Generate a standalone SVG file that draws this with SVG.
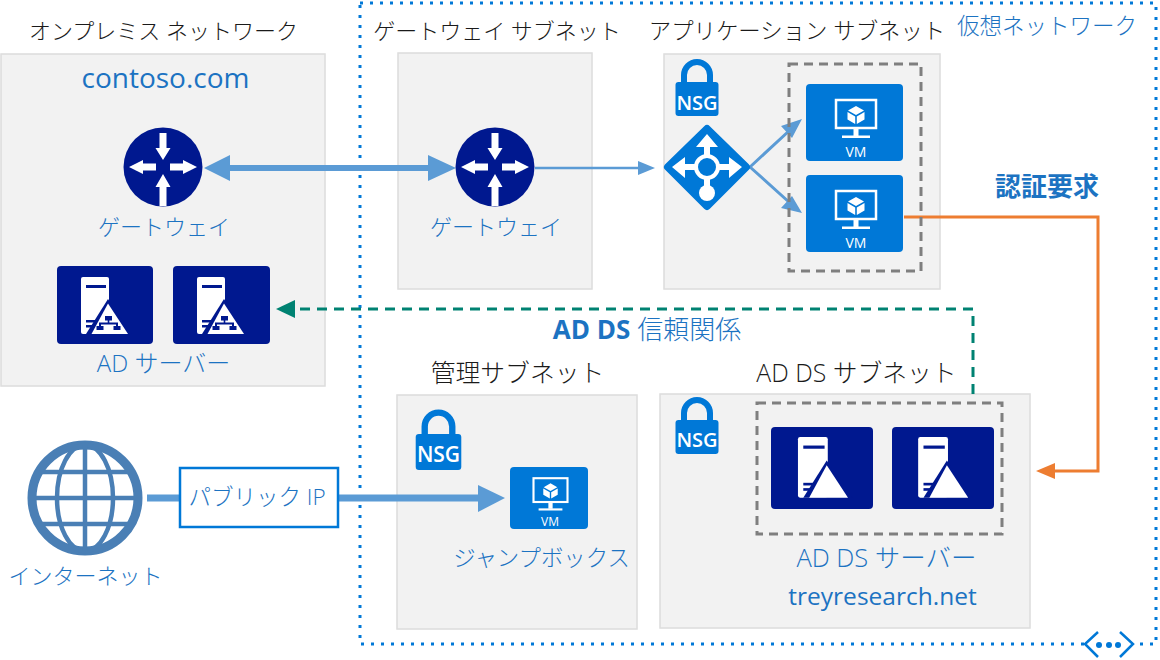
<svg xmlns="http://www.w3.org/2000/svg" xmlns:xlink="http://www.w3.org/1999/xlink" width="1160" height="660" viewBox="0 0 1160 660">
<style>
text{font-family:"Open Sans","Noto Sans CJK JP",sans-serif;text-anchor:middle}
.panel{fill:#f2f2f2;stroke:#dcdcdc;stroke-width:1.5}
.t{font-size:22px;fill:#1a1a1a;font-weight:300}
.t2{font-size:24.800px;fill:#1a1a1a;font-weight:300}
.b{font-size:22px;fill:#1c73c2;font-weight:300}
.b2{font-size:24.800px;fill:#1c73c2;font-weight:300}
.bold{font-size:26px;fill:#1c73c2;font-weight:700}
.dash{fill:none;stroke:#7f7f7f;stroke-width:3;stroke-dasharray:9 6}
.w{fill:#fff}
.lbl{fill:#fff;font-weight:600}
.vmt{fill:#fff;font-weight:400}
.blue{fill:#0078d7}
.navy{fill:#00188f}
.a{stroke:#5b9bd5;fill:none}
.ah{fill:#5b9bd5}
</style>
<defs>
<g id="router"><circle r="39.500" fill="#00188f"/>
<path class="w" d="M-3.500-34H3.500V-19H7.500L0-7-7.500-19H-3.500ZM-3.500 39H3.500V20H7.500L0 7-7.500 20H-3.500ZM-34 0-20-7V-3.500H-7V3.500H-20V7ZM34 0 20-7V-3.500H7V3.500H20V7Z"/></g>
<g id="lock"><path d="M-13 0V-9A13 13 0 0 1 13-9V0" fill="none" stroke="#0078d7" stroke-width="6"/><rect x="-21.500" y="-2" width="43" height="34" rx="3" class="blue"/></g>
<g id="vmicon"><rect x="-20" y="-28" width="40" height="28" fill="none" stroke="#fff" stroke-width="2.500"/><rect x="-2.500" y="1" width="5" height="7" class="w"/><rect x="-14" y="7.500" width="28" height="2.500" class="w"/><path class="w" d="M0-22-8-17.500 0-13 8-17.500ZM-8.500-16-.8-11.500V-4L-8.500-8.500ZM8.500-16 .8-11.500V-4L8.500-8.500Z"/></g>
<g id="srv"><rect x="24" y="11" width="28" height="57" rx="2" class="w"/><rect x="29" y="19" width="20" height="3" class="navy"/><rect x="29" y="54" width="10" height="2.500" class="navy"/><rect x="29" y="59" width="8" height="2.500" class="navy"/><path class="navy" d="M51 33 29 68H75Z"/><path class="w" d="M51 37.500 34.500 68H71Z"/></g>
<g id="adtree"><path class="navy" d="M48 50H55V54.500H52.300V56.500H61V60H63.500V64H56.500V60H59V58.500H44V60H46.500V64H39.500V60H42V56.500H50.700V54.500H48Z"/></g>
</defs>

<g id="vnet"><path d="M360 3H1156V644H1136M1084 644H360V3" fill="none" stroke="#0078d7" stroke-width="3" stroke-dasharray="3 7"/>
<g fill="none" stroke="#0078d7" stroke-width="2.500"><path d="M1098 632 1085 644 1098 657M1120 632 1133 644 1120 657"/></g>
<circle cx="1099" cy="645" r="3" class="blue"/><circle cx="1109" cy="645" r="3" class="blue"/><circle cx="1118" cy="645" r="3" class="blue"/>
<text x="1047" y="34" class="b" style="font-size:22.500px">仮想ネットワーク</text></g>

<g id="onprem"><rect x="1" y="54" width="324" height="332" class="panel"/>
<text x="163.500" y="39" class="t">オンプレミス ネットワーク</text>
<text x="165.500" y="88" style="font-size:28px;fill:#1c73c2">contoso.com</text></g>
<g id="gw-subnet"><rect x="398" y="53" width="194" height="236" class="panel"/>
<text x="497" y="39" class="t">ゲートウェイ サブネット</text></g>
<g id="app-subnet"><rect x="664" y="54" width="276" height="235" class="panel"/>
<text x="797" y="39" class="t" style="font-size:22.400px">アプリケーション サブネット</text></g>
<g id="mgmt-subnet"><rect x="397" y="395" width="240" height="234" class="panel"/>
<text x="517.500" y="382" class="t2">管理サブネット</text></g>
<g id="adds-subnet"><rect x="660" y="394" width="370" height="234" class="panel"/>
<text x="856.500" y="382" class="t2">AD DS サブネット</text></g>

<g id="connectors">
<path class="a" stroke-width="6" d="M226 168H432"/>
<path class="ah" d="M204 168 230 155V181ZM456 168 428 155V181Z"/>
<path class="a" stroke-width="2.500" d="M535 168H642"/><path class="ah" d="M655 168 638 161V175Z"/>
<path class="a" stroke-width="3" d="M750 167 790 130M750 167 790 203"/>
<path class="ah" d="M802 119 781 126 792 138ZM802 213 792 196 781 208Z"/>
<path d="M904 217H1098V471H1052" fill="none" stroke="#ed7d31" stroke-width="3"/><path d="M1036 471 1055 463V479Z" fill="#ed7d31"/>
<path d="M973 394V309H295" fill="none" stroke="#008272" stroke-width="3" stroke-dasharray="10 7"/><path d="M276 309 295 300V318Z" fill="#008272"/>
<path class="a" stroke-width="7" d="M147 498H180M338 498H480"/><path class="ah" d="M505 498 478 485V512Z"/>
</g>

<g id="router1"><use xlink:href="#router" x="163" y="167"/><text x="164" y="235" class="b">ゲートウェイ</text></g>
<g id="router2"><use xlink:href="#router" x="495" y="167"/><text x="496" y="235" class="b">ゲートウェイ</text></g>

<g id="ad-servers">
<rect x="57" y="266" width="96" height="78" rx="4" class="navy"/><g transform="translate(57 266)"><use xlink:href="#srv"/><use xlink:href="#adtree"/></g>
<rect x="173" y="266" width="97" height="78" rx="4" class="navy"/><g transform="translate(173 266)"><use xlink:href="#srv"/><use xlink:href="#adtree"/></g>
<text x="163.500" y="372" class="b" style="font-size:24px">AD サーバー</text></g>

<g id="nsg-app"><use xlink:href="#lock" x="697" y="84"/><text x="697" y="110" class="lbl" font-size="20">NSG</text></g>
<g id="lb"><path d="M707 129 746 167 707 206 668 167Z" fill="#0078d7" stroke="#0078d7" stroke-width="8" stroke-linejoin="round"/>
<path class="w" d="M707 134 718 147H710V158H704V147H696ZM672 167 685 157V164H696V170H685V178ZM742 167 729 157V164H718V170H729V178ZM704 176H710V186H704Z"/>
<circle cx="707" cy="167" r="11" fill="#0078d7" stroke="#fff" stroke-width="4"/><circle cx="707" cy="193" r="8" class="w"/></g>
<g id="vm1"><rect x="806" y="84" width="97" height="77" rx="4" class="blue"/><use xlink:href="#vmicon" x="856" y="128"/><text x="856" y="157" class="vmt" font-size="14">VM</text></g>
<g id="vm2"><rect x="806" y="175" width="97" height="77" rx="4" class="blue"/><use xlink:href="#vmicon" x="856" y="219"/><text x="856" y="248" class="vmt" font-size="14">VM</text></g>
<rect id="app-group" x="789" y="64" width="132" height="207" class="dash"/>

<g id="auth"><text x="1047" y="196" class="bold">認証要求</text></g>
<g id="trust"><text x="647" y="339" class="b" style="font-size:26px"><tspan class="bold">AD DS</tspan> 信頼関係</text></g>

<g id="internet"><circle cx="85" cy="498" r="53" fill="none" stroke="#4a7fb5" stroke-width="9"/>
<g fill="none" stroke="#4a7fb5" stroke-width="4.500"><ellipse cx="85" cy="498" rx="28" ry="53"/><path d="M85 445V551M32 498H138M42 472H128M42 524H128"/></g>
<text x="85.500" y="584" class="b">インターネット</text></g>
<g id="public-ip"><rect x="180" y="468" width="158" height="59" fill="#fff" stroke="#0078d7" stroke-width="2.500"/><text x="257" y="505" class="b" style="font-size:22.500px">パブリック IP</text></g>

<g id="nsg-mgmt"><g transform="translate(438.500 436) scale(1.060)"><use xlink:href="#lock"/></g><text x="438.500" y="462" class="lbl" font-size="21">NSG</text></g>
<g id="jump"><rect x="510" y="467" width="78" height="62" rx="4" class="blue"/><g transform="translate(550.500 502) scale(.85)"><use xlink:href="#vmicon"/></g><text x="550" y="526" class="vmt" font-size="12">VM</text><text x="541.500" y="566" class="b" style="font-size:22.400px">ジャンプボックス</text></g>

<g id="nsg-adds"><use xlink:href="#lock" x="697" y="422"/><text x="697" y="447" class="lbl" font-size="20">NSG</text></g>
<rect id="adds-group" x="757" y="403" width="245" height="131" class="dash"/>
<g id="adds1"><rect x="771" y="427" width="102" height="82" rx="4" class="navy"/><g transform="translate(772.400 425.300) scale(1.065)"><use xlink:href="#srv"/></g></g>
<g id="adds2"><rect x="892" y="427" width="102" height="82" rx="4" class="navy"/><g transform="translate(892.600 425.300) scale(1.065)"><use xlink:href="#srv"/></g></g>
<text x="886.500" y="567" class="b2" style="font-size:25.500px">AD DS サーバー</text>
<text x="882.500" y="605" style="font-size:24.500px;fill:#1c73c2">treyresearch.net</text>
</svg>
